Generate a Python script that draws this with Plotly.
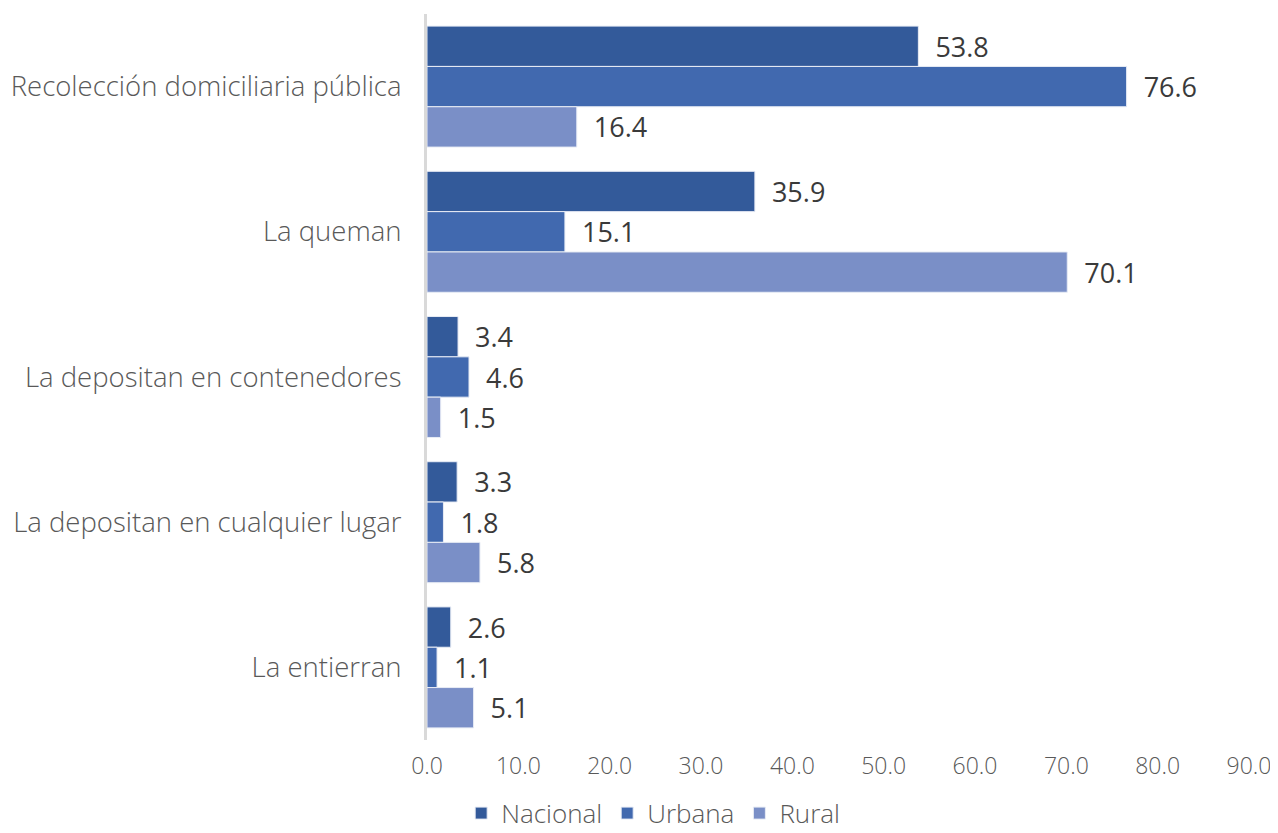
import plotly.graph_objects as go

categories = ["Recolección domiciliaria pública", "La queman", "La depositan en contenedores",
              "La depositan en cualquier lugar", "La entierran"]
nacional = [53.8, 35.9, 3.4, 3.3, 2.6]
urbana = [76.6, 15.1, 4.6, 1.8, 1.1]
rural = [16.4, 70.1, 1.5, 5.8, 5.1]
x_ticks = [0, 10, 20, 30, 40, 50, 60, 70, 80, 90]

series = [("Nacional", nacional, "#335A9A"),
          ("Urbana", urbana, "#4169AF"),
          ("Rural", rural, "#7A8FC7")]

FONT = "Open Sans"
fig = go.Figure()
for name, vals, col in series:
    fig.add_trace(go.Bar(
        y=categories, x=vals, name=name, orientation="h",
        marker=dict(color=col, line=dict(color="#E8ECF5", width=1)),
        text=[f"{v:.1f}" for v in vals], textposition="outside",
        texttemplate="  %{text}",
        textfont=dict(family=FONT, size=27, color="#3A3A3A"),
        cliponaxis=False,
    ))

fig.update_layout(
    barmode="group", bargap=0.167, bargroupgap=0,
    width=1270, height=825,
    margin=dict(l=419, r=29, t=6, b=93),
    plot_bgcolor="white", paper_bgcolor="white",
    font=dict(family=FONT, color="#595959"),
    showlegend=True,
    legend=dict(orientation="h", xref="container", x=0.508, xanchor="center",
                yref="container", y=0.024, yanchor="middle",
                font=dict(family=FONT, size=26, color="#595959", weight=300),
                traceorder="normal", itemwidth=30),
)
fig.update_yaxes(autorange="reversed", showline=True, linecolor="#D9D9D9", linewidth=3,
                 automargin=False,
                 ticks="", tickfont=dict(family=FONT, size=27.5, color="#595959", weight=300),
                 ticklabelstandoff=17)
fig.update_xaxes(range=[0, 90], tickvals=x_ticks, ticktext=[f"{t:.1f}" for t in x_ticks],
                 showgrid=False, zeroline=False, showline=False, automargin=False,
                 tickfont=dict(family=FONT, size=23, color="#595959", weight=300),
                 ticklabelstandoff=10)

fig.write_html("out.html")
